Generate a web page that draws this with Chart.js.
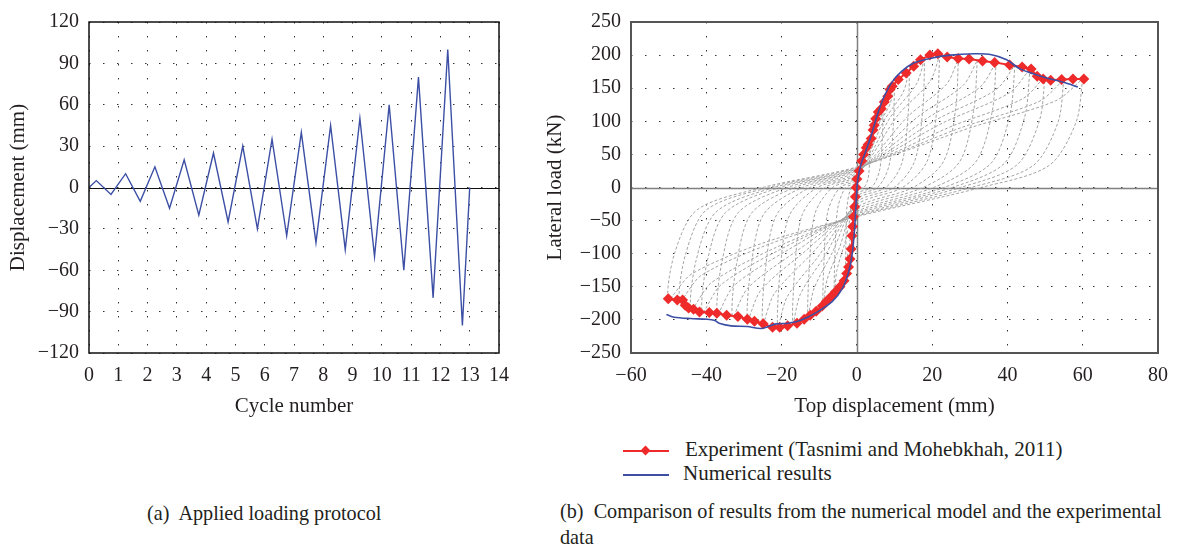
<!DOCTYPE html>
<html>
<head>
<meta charset="utf-8">
<script src="https://cdn.jsdelivr.net/npm/chart.js@4.4.1/dist/chart.umd.min.js"></script>
<style>
  body { margin: 0; background: #fff; width: 1179px; height: 550px; position: relative; overflow: hidden;
         font-family: "Liberation Serif", serif; color: #231f20; }
  canvas { position: absolute; top: 0; }
  #protocolChart { left: 0; }
  #hysteresisChart { left: 540px; }
  .txt { position: absolute; white-space: nowrap; font-size: 21px; line-height: 24px; }
  .cap { font-size: 20.2px; }
  .legLine { position: absolute; height: 2px; }
</style>
</head>
<body>
<canvas id="protocolChart" width="520" height="420"></canvas>
<canvas id="hysteresisChart" width="639" height="420"></canvas>

<div class="legLine" style="left:623px;top:450px;width:46px;background:#ee2a2a"></div>
<div style="position:absolute;left:642px;top:447px;width:7px;height:7px;background:#ee2a2a;transform:rotate(45deg)"></div>
<div class="txt" style="left:685px;top:437px">Experiment (Tasnimi and Mohebkhah, 2011)</div>
<div class="legLine" style="left:623px;top:474px;width:46px;height:1.5px;background:#3c4fa5"></div>
<div class="txt" style="left:683px;top:461px">Numerical results</div>

<div class="txt cap" style="left:147px;top:501px">(a)&nbsp; Applied loading protocol</div>
<div class="txt cap" style="left:560px;top:499px">(b)&nbsp; Comparison of results from the numerical model and the experimental</div>
<div class="txt cap" style="left:560px;top:525px">data</div>

<script>
// (a) 하중 이력 - cycle number vs displacement (mm)
const cycleX = [0, 0.25, 0.75, 1.25, 1.75, 2.25, 2.75, 3.25, 3.75, 4.25, 4.75, 5.25, 5.75, 6.25,
                6.75, 7.25, 7.75, 8.25, 8.75, 9.25, 9.75, 10.25, 10.75, 11.25, 11.75, 12.25, 12.75, 13];
const protocolY = [0, 5, -5, 10, -10, 15, -15, 20, -20, 25, -25, 30, -30, 35,
                   -35, 40, -40, 45, -45, 50, -50, 60, -60, 80, -80, 100, -100, 0];
const cycleTicks = { min: 0, max: 14, step: 1 };
const dispTicks = { min: -120, max: 120, step: 30 };

// (b) 실험 결과 (Tasnimi and Mohebkhah, 2011)
const expX = [-50.1, -47.7, -46.3, -45.6, -44.7, -43.4, -41.8, -39.2, -37.2, -34.6, -31.6, -29.1, -27.2, -24.9,
              -22.4, -20.5, -18.4, -15.9, -14.0, -12.4, -10.8, -9.2, -8.1, -6.7, -5.6, -4.5, -3.4, -2.7,
              -2.2, -1.8, -1.5, -1.3, -1.1, -0.9, -0.6, -0.4, -0.2, 0, 0.6, 1.3, 1.8, 2.5, 3.0, 3.8,
              4.3, 4.6, 5.0, 5.7, 6.5, 7.3, 8.2, 8.8, 9.4, 11.0, 13.1, 15.1, 16.9, 19.4, 21.5, 24.0,
              26.9, 29.8, 33.4, 36.6, 40.6, 43.9, 46.3, 47.9, 49.5, 51.5, 54.4, 57.4, 60.3];
const expY = [-168, -170, -170, -178, -182, -184, -188, -189, -190, -193, -195, -199, -202, -206,
              -211, -211, -209, -205, -199, -193, -187, -179, -172, -164, -157, -150, -141, -130,
              -120, -108, -93, -73, -59, -44, -29, -14, 0, 13, 25, 40, 50, 60, 65, 74,
              87, 94, 104, 114, 119, 129, 138, 148, 153, 163, 173, 183, 193, 200, 202, 197,
              195, 194, 191, 189, 185, 182, 179, 168, 164, 162, 163, 164, 164];

// (b) 수치 해석 결과
const numX = [-50.6, -48.5, -44.2, -39.8, -37.7, -36.6, -33.4, -29.1, -25.3, -21.5, -18.3, -15.1, -10.8,
              -6.5, -3.8, -2.2, -1.3, -0.6, -0.2, 0.2, 1.1, 2.7, 4.1, 5.4, 7.0, 9.2, 11.8, 15.1,
              19.4, 24.8, 31.2, 35.5, 39.8, 43.1, 46.3, 50.6, 54.9, 58.7];
const numY = [-192, -196, -198, -199, -201, -205, -209, -210, -213, -206, -205, -201, -189,
              -172, -152, -128, -103, -63, -24, 10, 35, 60, 84, 109, 134, 158, 175, 188,
              195, 200, 202, 201, 193, 180, 173, 165, 159, 152];

// (b) 회색 점선 이력 루프 [x, y]
const loop01 = [[3.5,72],[3.4,43],[3.0,14],[1.9,0],[0,-5],[-1.5,-69],[-2.6,-108],[-3,-138],[-2.9,-83],[-2.6,-28],[-1.5,0],[0,5],[1.8,40],[3.1,58],[3.5,72]];
const loop02 = [[7,127],[6.8,76],[6.0,25],[3.9,0],[0,-10],[-3,-80],[-5.3,-125],[-6,-160],[-5.8,-96],[-5.1,-32],[-3,0],[0,8],[3.5,70],[6.2,102],[7,127]];
const loop03 = [[10,158],[9.7,95],[8.5,32],[5.5,0],[0,-14],[-4.5,-89],[-7.9,-139],[-9,-178],[-8.7,-107],[-7.7,-36],[-4.5,0],[0,12],[5,87],[8.8,126],[10,158]];
const loop04 = [[14,180],[13.6,108],[11.9,36],[7.7,0],[0,-18],[-6.5,-98],[-11.4,-153],[-13,-196],[-12.6,-118],[-11.1,-39],[-6.5,0],[0,15],[7,99],[12.3,144],[14,180]];
const loop05 = [[18,195],[17.5,117],[15.3,39],[9.9,0],[0,-22],[-8.5,-103],[-15,-161],[-17,-206],[-16.5,-124],[-14.5,-41],[-8.5,0],[0,18],[9,107],[15.8,156],[18,195]];
const loop06 = [[22,200],[21.3,120],[18.7,40],[12.1,0],[0,-26],[-10.5,-106],[-18.5,-165],[-21,-211],[-20.4,-127],[-17.9,-42],[-10.5,0],[0,20],[11,110],[19.4,160],[22,200]];
const loop07 = [[27,195],[26.2,117],[23,39],[14.9,0],[0,-30],[-12.5,-103],[-22,-161],[-25,-206],[-24.3,-124],[-21.3,-41],[-12.5,0],[0,22],[13.5,107],[23.8,156],[27,195]];
const loop08 = [[32,192],[31,115],[27.2,38],[17.6,0],[0,-33],[-14.5,-100],[-25.5,-155],[-29,-199],[-28.1,-119],[-24.7,-40],[-14.5,0],[0,24],[16,106],[28.2,154],[32,192]];
const loop09 = [[37,189],[35.9,113],[31.5,38],[20.4,0],[0,-36],[-16.5,-98],[-29,-152],[-33,-195],[-32,-117],[-28,-39],[-16.5,0],[0,26],[18.5,104],[32.6,151],[37,189]];
const loop10 = [[42,185],[40.7,111],[35.7,37],[23.1,0],[0,-38],[-18.5,-95],[-32.6,-148],[-37,-190],[-35.9,-114],[-31.5,-38],[-18.5,0],[0,27],[21,102],[37,148],[42,185]];
const loop11 = [[46,179],[44.6,107],[39.1,36],[25.3,0],[0,-40],[-20.5,-94],[-36.1,-147],[-41,-188],[-39.8,-113],[-34.9,-38],[-20.5,0],[0,28],[23,98],[40.5,143],[46,179]];
const loop12 = [[50,168],[48.5,101],[42.5,34],[27.5,0],[0,-42],[-22,-92],[-38.7,-144],[-44,-184],[-42.7,-110],[-37.4,-37],[-22,0],[0,29],[25,92],[44,134],[50,168]];
const loop13 = [[55,163],[53.4,98],[46.8,33],[30.3,0],[0,-43],[-23.5,-86],[-41.4,-133],[-47,-171],[-45.6,-103],[-40,-34],[-23.5,0],[0,30],[27.5,90],[48.4,130],[55,163]];
const loop14 = [[60,164],[58.2,98],[51,33],[33,0],[0,-44],[-25,-84],[-44,-131],[-50,-168],[-48.5,-101],[-42.5,-34],[-25,0],[0,31],[30,90],[52.8,131],[60,164]];
const hystLoops = [loop01, loop02, loop03, loop04, loop05, loop06, loop07, loop08, loop09, loop10, loop11, loop12, loop13, loop14];

const topDispTicks = { min: -60, max: 80, step: 20 };
const loadTicks = { min: -250, max: 250, step: 50 };

const FONT = '"Liberation Serif", "Times New Roman", serif';
const INK = '#231f20';
const minus = v => String(v).replace('-', '\u2212');

// 테두리와 0 기준선을 그리는 플러그인
const framePlugin = {
    id: 'frame',
    beforeDatasetsDraw(chart, args, opts) {
        const { ctx, chartArea: a, scales } = chart;
        ctx.save();
        ctx.strokeStyle = opts.zeroColor;
        ctx.lineWidth = opts.zeroWidth;
        ctx.beginPath();
        const y0 = Math.round(scales.y.getPixelForValue(0)) + 0.5;
        ctx.moveTo(a.left, y0);
        ctx.lineTo(a.right, y0);
        if (opts.zeroX) {
            const x0 = Math.round(scales.x.getPixelForValue(0)) + 0.5;
            ctx.moveTo(x0, a.top);
            ctx.lineTo(x0, a.bottom);
        }
        ctx.stroke();
        ctx.restore();
    },
    afterDraw(chart, args, opts) {
        const { ctx, chartArea: a } = chart;
        ctx.save();
        ctx.strokeStyle = opts.color;
        ctx.lineWidth = opts.width;
        ctx.strokeRect(a.left, a.top, a.right - a.left, a.bottom - a.top);
        ctx.restore();
    }
};

function axis(t, title, isY, boxSize, titlePad) {
    return {
        type: 'linear',
        min: t.min,
        max: t.max,
        afterFit(scale) {
            if (isY) scale.width = boxSize; else scale.height = boxSize;
        },
        ticks: {
            stepSize: t.step,
            color: INK,
            padding: isY ? 10 : 11,
            maxRotation: 0,
            autoSkip: false,
            font: { family: FONT, size: 20 },
            callback: v => minus(v)
        },
        grid: { color: '#333', lineWidth: 1, drawTicks: false },
        border: { display: false, dash: [1.5, 12.5] },
        title: {
            display: true,
            text: title,
            color: INK,
            font: { family: FONT, size: 21 },
            padding: titlePad
        }
    };
}

new Chart(document.getElementById('protocolChart'), {
    type: 'scatter',
    data: {
        datasets: [{
            data: cycleX.map((x, i) => ({ x, y: protocolY[i] })),
            showLine: true,
            borderColor: '#3c4fa5',
            borderWidth: 1.4,
            pointRadius: 0,
            tension: 0
        }]
    },
    options: {
        responsive: false,
        animation: false,
        layout: { padding: { top: 15, right: 12, bottom: 0, left: 0 } },
        plugins: {
            legend: { display: false },
            tooltip: { enabled: false },
            frame: { color: '#111', width: 1.5, zeroColor: '#111', zeroWidth: 1.2, zeroX: false }
        },
        scales: {
            x: axis(cycleTicks, 'Cycle number', false, 67, { top: 0, bottom: 1 }),
            y: axis(dispTicks, 'Displacement (mm)', true, 89, { top: 6, bottom: 0 })
        }
    },
    plugins: [framePlugin]
});

const loopSets = hystLoops.map(loop => ({
    data: loop.map(p => ({ x: p[0], y: p[1] })),
    showLine: true,
    borderColor: '#a3a3a3',
    borderWidth: 1,
    borderDash: [3, 2],
    pointRadius: 0,
    tension: 0.3,
    order: 3
}));

new Chart(document.getElementById('hysteresisChart'), {
    type: 'scatter',
    data: {
        datasets: [{
            label: 'Numerical results',
            data: numX.map((x, i) => ({ x, y: numY[i] })),
            showLine: true,
            borderColor: '#3c4fa5',
            borderWidth: 1.6,
            pointRadius: 0,
            tension: 0.3,
            order: 1
        }, {
            label: 'Experiment (Tasnimi and Mohebkhah, 2011)',
            data: expX.map((x, i) => ({ x, y: expY[i] })),
            showLine: true,
            borderColor: '#ee2a2a',
            backgroundColor: '#ee2a2a',
            borderWidth: 2,
            pointStyle: 'rectRot',
            pointRadius: 5.5,
            pointBorderWidth: 0,
            tension: 0,
            order: 2
        }, ...loopSets]
    },
    options: {
        responsive: false,
        animation: false,
        layout: { padding: { top: 15, right: 19, bottom: 0, left: 0 } },
        plugins: {
            legend: { display: false },
            tooltip: { enabled: false },
            frame: { color: '#555', width: 2, zeroColor: '#808080', zeroWidth: 1.5, zeroX: true }
        },
        scales: {
            x: axis(topDispTicks, 'Top displacement (mm)', false, 67, { top: 0, bottom: 1 }),
            y: axis(loadTicks, 'Lateral load (kN)', true, 91, { top: 3, bottom: 0 })
        }
    },
    plugins: [framePlugin]
});
</script>
</body>
</html>
